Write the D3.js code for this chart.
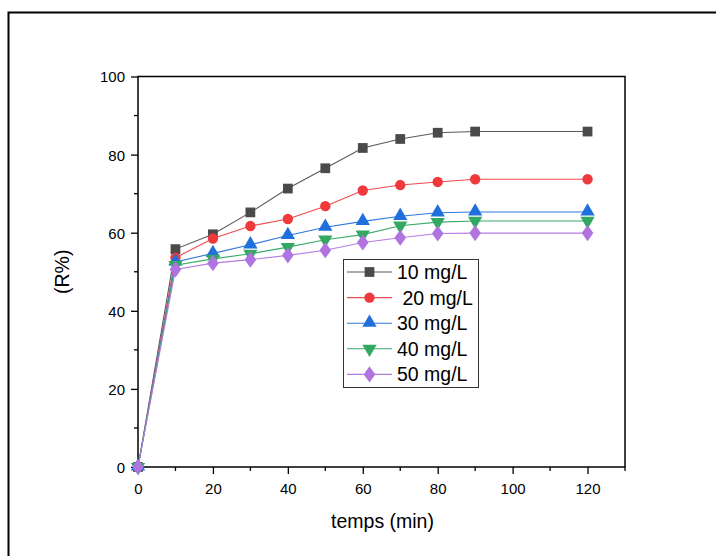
<!DOCTYPE html>
<html>
<head>
<meta charset="utf-8">
<script src="https://cdn.jsdelivr.net/npm/d3@7/dist/d3.min.js"></script>
<style>
  html, body { margin: 0; padding: 0; background: #fff; }
  svg { display: block; font-family: Arial, "Liberation Sans", sans-serif; }
</style>
</head>
<body>
<svg id="chart" width="716" height="556"></svg>
<script>
const times = [0, 10, 20, 30, 40, 50, 60, 70, 80, 90, 120];
const s10 = [0, 55.8, 59.6, 65.2, 71.3, 76.5, 81.7, 84.0, 85.6, 85.9, 85.9];
const s20 = [0, 53.6, 58.5, 61.7, 63.5, 66.8, 70.8, 72.2, 73.0, 73.7, 73.7];
const s30 = [0, 52.5, 54.7, 56.9, 59.3, 61.4, 62.9, 64.2, 65.1, 65.3, 65.3];
const s40 = [0, 51.7, 53.3, 54.6, 56.3, 58.2, 59.5, 61.8, 62.7, 63.0, 63.0];
const s50 = [0, 50.6, 52.2, 53.1, 54.2, 55.5, 57.5, 58.7, 59.8, 59.9, 59.9];
const seriesNames = ["10 mg/L", " 20 mg/L", "30 mg/L", "40 mg/L", "50 mg/L"];
const xTicks = [0, 20, 40, 60, 80, 100, 120];
const yTicks = [0, 20, 40, 60, 80, 100];
const xTitle = "temps (min)";
const yTitle = "(R%)";

const series = [
  { name: seriesNames[0], values: s10, marker: "square",   fill: "#4a4a4a", line: "#5a5a5a" },
  { name: seriesNames[1], values: s20, marker: "circle",   fill: "#ef3a3d", line: "#f04a4d" },
  { name: seriesNames[2], values: s30, marker: "triangle", fill: "#1f6fdc", line: "#2f78de" },
  { name: seriesNames[3], values: s40, marker: "tridown",  fill: "#33a862", line: "#3aac68" },
  { name: seriesNames[4], values: s50, marker: "diamond",  fill: "#b074e0", line: "#b67ce2" }
];

const svg = d3.select("#chart");

// outer frame
svg.append("rect").attr("x", 8.5).attr("y", 12.5).attr("width", 800).attr("height", 700)
  .attr("fill", "none").attr("stroke", "#000").attr("stroke-width", 2);

const L = 138, R = 625, T = 76.5, B = 467;
const x = d3.scaleLinear().domain([0, 130]).range([L, R]);
const y = d3.scaleLinear().domain([0, 100]).range([B, T]);

const symbolType = {
  square: d3.symbolSquare, circle: d3.symbolCircle, triangle: d3.symbolTriangle,
  tridown: d3.symbolTriangle, diamond: d3.symbolDiamond
};
const symbolSize = { square: 95, circle: 85, triangle: 88, tridown: 88, diamond: 75 };

function markerPath(m) {
  return d3.symbol().type(symbolType[m]).size(symbolSize[m])();
}
function markerTransform(m, px, py) {
  if (m === "tridown") return `translate(${px},${py}) rotate(180)`;
  if (m === "diamond") return `translate(${px},${py}) scale(1.25,1)`;
  if (m === "triangle") return `translate(${px},${py - 0.5})`;
  return `translate(${px},${py})`;
}

// axes
const xAxis = d3.axisBottom(x).tickValues(xTicks).tickSize(7).tickSizeOuter(0).tickPadding(9);
const yAxis = d3.axisLeft(y).tickValues(yTicks).tickSize(7).tickSizeOuter(0).tickPadding(6);

const gx = svg.append("g").attr("transform", `translate(0,${B})`).call(xAxis);
const gy = svg.append("g").attr("transform", `translate(${L},0)`).call(yAxis);
[gx, gy].forEach(g => {
  g.select(".domain").remove();
  g.selectAll(".tick line").attr("stroke", "#000").attr("stroke-width", 1.3);
  g.selectAll(".tick text").attr("font-size", 15).attr("fill", "#000")
    .attr("font-family", "Arial, 'Liberation Sans', sans-serif");
});
gy.selectAll(".tick text").attr("dy", "0.36em");

// minor ticks
const xMinor = d3.range(10, 131, 20);
const yMinor = d3.range(10, 100, 20);
svg.append("g").selectAll("line").data(xMinor).join("line")
  .attr("x1", d => x(d)).attr("x2", d => x(d)).attr("y1", B).attr("y2", B + 4)
  .attr("stroke", "#000").attr("stroke-width", 1.3);
svg.append("g").selectAll("line").data(yMinor).join("line")
  .attr("x1", L - 4).attr("x2", L).attr("y1", d => y(d)).attr("y2", d => y(d))
  .attr("stroke", "#000").attr("stroke-width", 1.3);

// plot frame
svg.append("rect").attr("x", L).attr("y", T).attr("width", R - L).attr("height", B - T)
  .attr("fill", "none").attr("stroke", "#000").attr("stroke-width", 1.5);

// series
const line = d3.line().x((d, i) => x(times[i])).y(d => y(d));
series.forEach(s => {
  const g = svg.append("g");
  g.append("path").datum(s.values).attr("d", line)
    .attr("fill", "none").attr("stroke", s.line).attr("stroke-width", 1.1);
  g.selectAll("path.m").data(s.values).join("path").attr("class", "m")
    .attr("d", markerPath(s.marker))
    .attr("transform", (d, i) => markerTransform(s.marker, x(times[i]), y(d)))
    .attr("fill", s.fill);
});

// legend
const lg = svg.append("g");
lg.append("rect").attr("x", 343.5).attr("y", 259.5).attr("width", 135).attr("height", 128)
  .attr("fill", "#fff").attr("stroke", "#333").attr("stroke-width", 1);
series.forEach((s, i) => {
  const cy = 272 + i * 25.6;
  lg.append("line").attr("x1", 347).attr("x2", 392).attr("y1", cy).attr("y2", cy)
    .attr("stroke", s.line).attr("stroke-width", 1.1);
  lg.append("path").attr("d", markerPath(s.marker))
    .attr("transform", markerTransform(s.marker, 369.5, cy)).attr("fill", s.fill);
  lg.append("text").attr("x", 397).attr("y", cy).attr("dy", "0.36em")
    .attr("font-size", 19.5).attr("fill", "#000").attr("xml:space", "preserve")
    .style("white-space", "pre").text(s.name);
});

// titles
svg.append("text").attr("x", (L + R) / 2 + 1).attr("y", 528)
  .attr("text-anchor", "middle").attr("font-size", 19.5).attr("fill", "#000").text(xTitle);
svg.append("text").attr("transform", `translate(69,${(T + B) / 2}) rotate(-90)`)
  .attr("text-anchor", "middle").attr("font-size", 19.5).attr("fill", "#000").text(yTitle);
</script>
</body>
</html>
